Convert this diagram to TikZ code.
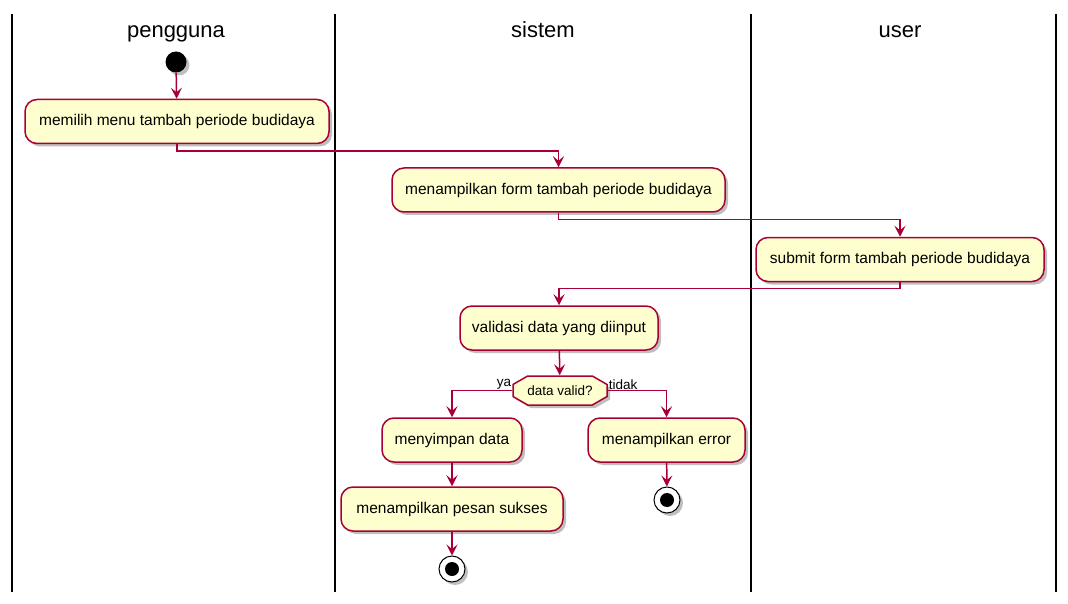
\documentclass[tikz,border=0pt]{standalone}
\usepackage{fontspec}
\setmainfont{Liberation Sans}
\usetikzlibrary{arrows.meta,shadows,shapes.misc}
\definecolor{plred}{HTML}{A80036}
\definecolor{plyellow}{HTML}{FEFECE}
\tikzset{
  act/.style={draw=plred, fill=plyellow, line width=1.5pt, rounded corners=12pt,
    minimum height=44pt, inner sep=0pt, font=\fontsize{15.5}{18}\selectfont,
    drop shadow={shadow xshift=3pt, shadow yshift=-3pt, fill=black, opacity=0.25}},
  decide/.style={draw=plred, fill=plyellow, line width=1.5pt, chamfered rectangle,
    chamfered rectangle xsep=12pt, chamfered rectangle angle=60, inner xsep=2pt, inner ysep=0pt,
    minimum height=29pt, minimum width=94pt, font=\fontsize{13.5}{16}\selectfont,
    drop shadow={shadow xshift=3pt, shadow yshift=-3pt, fill=black, opacity=0.25}},
  flow/.style={draw=plred, line width=1.5pt, -{Stealth[length=11pt,width=11pt,inset=4.5pt]}},
  lane/.style={draw=black, line width=2.3pt},
  lanetitle/.style={font=\fontsize{22}{26}\selectfont, anchor=base},
  lbl/.style={font=\fontsize{13.5}{16}\selectfont, inner sep=1pt},
  startnode/.style={circle, fill=black, minimum size=21pt, inner sep=0pt,
    drop shadow={shadow xshift=3pt, shadow yshift=-3pt, fill=black, opacity=0.25}},
  endouter/.style={circle, draw=black, fill=white, line width=1pt, minimum size=26pt, inner sep=0pt,
    drop shadow={shadow xshift=3pt, shadow yshift=-3pt, fill=black, opacity=0.25}},
  endinner/.style={circle, fill=black, minimum size=14pt, inner sep=0pt},
}
\begin{document}
\begin{tikzpicture}[x=1pt,y=-1pt]
\useasboundingbox (0,0) rectangle (1068,604);
% swimlane borders
\draw[lane] (12,14) -- (12,592);
\draw[lane] (335,14) -- (335,592);
\draw[lane] (751,14) -- (751,592);
\draw[lane] (1056,14) -- (1056,592);
\node[lanetitle] (t1) at (176,38) {pengguna};
\node[lanetitle] (t2) at (543,38) {sistem};
\node[lanetitle] (t3) at (900,38) {user};
% nodes
\node[startnode] (start) at (176,62) {};
\node[act, minimum width=304pt] (a1) at (177,121.5) {memilih menu tambah periode budidaya};
\node[act, minimum width=333pt] (a2) at (558.5,190) {menampilkan form tambah periode budidaya};
\node[act, minimum width=288pt] (a3) at (900,259.5) {submit form tambah periode budidaya};
\node[act, minimum width=198pt] (a4) at (559,328) {validasi data yang diinput};
\node[decide] (d) at (560,390.5) {data valid?};
\node[act, minimum width=140pt] (a5) at (452,440) {menyimpan data};
\node[act, minimum width=157pt] (a6) at (666.5,440) {menampilkan error};
\node[act, minimum width=222pt] (a7) at (452,509) {menampilkan pesan sukses};
\node[endouter] (e1) at (452,569) {};
\node[endinner] (e1i) at (e1.center) {};
\node[endouter] (e2) at (667,500) {};
\node[endinner] (e2i) at (e2.center) {};
% connectors
\draw[flow] (start) -- (a1);
\draw[flow] (a1.south) -- ++(0,7) -| (a2.north);
\draw[flow] (a2.south) -- ++(0,7) -| (a3.north);
\draw[flow] (a3.south) -- ++(0,6) -| (a4.north);
\draw[flow] (a4) -- (d);
\draw[flow] (d.west) -| (a5.north);
\draw[flow] (d.east) -| (a6.north);
\draw[flow] (a5) -- (a7);
\draw[flow] (a7) -- (e1);
\draw[flow] (a6) -- (e2);
% labels
\node[lbl, anchor=south east] (ya) at (d.west) {ya};
\node[lbl, anchor=south west] (tidak) at (d.east) {tidak};
\end{tikzpicture}
\end{document}
